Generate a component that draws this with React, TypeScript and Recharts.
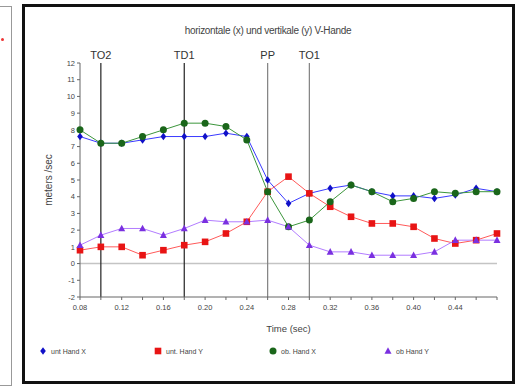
import React from "react";
import { LineChart, Line, XAxis, YAxis, ReferenceLine } from "recharts";

const times = [0.08, 0.1, 0.12, 0.14, 0.16, 0.18, 0.2, 0.22, 0.24, 0.26, 0.28, 0.3, 0.32, 0.34, 0.36, 0.38, 0.4, 0.42, 0.44, 0.46, 0.48];
const untHandX = [7.6, 7.2, 7.2, 7.4, 7.6, 7.6, 7.6, 7.8, 7.6, 5.0, 3.6, 4.2, 4.5, 4.7, 4.3, 4.05, 4.05, 3.9, 4.1, 4.5, 4.3];
const untHandY = [0.8, 1.0, 1.0, 0.5, 0.8, 1.1, 1.3, 1.8, 2.5, 4.3, 5.2, 4.2, 3.4, 2.8, 2.4, 2.4, 2.2, 1.5, 1.2, 1.4, 1.8];
const obHandX = [8.0, 7.2, 7.2, 7.6, 8.0, 8.4, 8.4, 8.2, 7.4, 4.3, 2.2, 2.6, 3.7, 4.7, 4.3, 3.7, 3.9, 4.3, 4.2, 4.3, 4.3];
const obHandY = [1.1, 1.7, 2.1, 2.1, 1.7, 2.1, 2.6, 2.5, 2.5, 2.6, 2.2, 1.1, 0.7, 0.7, 0.5, 0.5, 0.5, 0.7, 1.4, 1.4, 1.4];

const xTicks = [0.08, 0.1, 0.12, 0.14, 0.16, 0.18, 0.2, 0.22, 0.24, 0.26, 0.28, 0.3, 0.32, 0.34, 0.36, 0.38, 0.4, 0.42, 0.44, 0.46, 0.48];
const yTicks = [-2, -1, 0, 1, 2, 3, 4, 5, 6, 7, 8, 9, 10, 11, 12];

const events = [
  { label: "TO2", t: 0.1, dark: true },
  { label: "TD1", t: 0.18, dark: true },
  { label: "PP", t: 0.26, dark: false },
  { label: "TO1", t: 0.3, dark: false },
];

const series = [
  { key: "untX", name: "unt Hand X", values: untHandX, line: "#3a3aff", mark: "#1010c8", shape: "diamond" },
  { key: "untY", name: "unt. Hand Y", values: untHandY, line: "#ff5a5a", mark: "#e81414", shape: "square" },
  { key: "obX", name: "ob. Hand X", values: obHandX, line: "#3c963c", mark: "#1a661a", shape: "circle" },
  { key: "obY", name: "ob Hand Y", values: obHandY, line: "#b27cff", mark: "#7a30e0", shape: "triangle" },
];

const data = times.map((t, i) => {
  const row: Record<string, number> = { t };
  series.forEach((s) => (row[s.key] = s.values[i]));
  return row;
});

const FONT = "'Liberation Sans', Arial, sans-serif";

function Marker({ cx, cy, shape, color }: { cx: number; cy: number; shape: string; color: string }) {
  if (cx == null || cy == null) return null;
  if (shape === "diamond")
    return <path d={`M${cx},${cy - 3.8}L${cx + 2.8},${cy}L${cx},${cy + 3.8}L${cx - 2.8},${cy}Z`} fill={color} />;
  if (shape === "square") return <rect x={cx - 3.3} y={cy - 3.3} width={6.6} height={6.6} fill={color} />;
  if (shape === "circle") return <circle cx={cx} cy={cy} r={3.5} fill={color} />;
  return <path d={`M${cx},${cy - 3.8}L${cx + 3.5},${cy + 2.8}L${cx - 3.5},${cy + 2.8}Z`} fill={color} />;
}

export default function App() {
  return (
    <div style={{ position: "absolute", left: 0, top: 0, width: 519, height: 387, background: "#fff", fontFamily: FONT, overflow: "hidden" }}>
      {/* stray panel on the left */}
      <div style={{ position: "absolute", left: -4, top: 6, width: 14, height: 378, border: "1px solid #999" }} />
      <div style={{ position: "absolute", left: 1, top: 38, width: 3, height: 3, background: "#e33", borderRadius: 2 }} />
      {/* frame */}
      <div style={{ position: "absolute", left: 22, top: 4, width: 487, height: 374, border: "3px solid #111" }} />
      <div style={{ position: "absolute", left: 0, top: 25, width: 536, textAlign: "center", fontSize: 10, color: "#444", letterSpacing: -0.3 }}>
        horizontale (x) und vertikale (y) V-Hande
      </div>
      <div style={{ position: "absolute", left: 0, top: 0 }}>
        <LineChart width={519} height={387} data={data} margin={{ top: 63, right: 22, bottom: 60, left: 0 }}>
          <XAxis
            dataKey="t"
            type="number"
            domain={[0.08, 0.48]}
            ticks={xTicks}
            interval={0}
            tickFormatter={(v: number, i: number) => (i % 2 === 0 && i < 20 ? v.toFixed(2) : "")}
            tick={{ fontSize: 7.5, fill: "#444", fontFamily: FONT }}
            tickMargin={5}
            stroke="#666"
            tickSize={3}
            label={{ value: "Time (sec)", position: "bottom", offset: -2, fontSize: 9.5, fill: "#444", fontFamily: FONT }}
          />
          <YAxis
            type="number"
            domain={[-2, 12]}
            ticks={yTicks}
            interval={0}
            width={80}
            tick={{ fontSize: 7.5, fill: "#444", fontFamily: FONT }}
            stroke="#666"
            tickSize={3}
            label={{ value: "meters /sec", angle: -90, position: "insideLeft", offset: 48, fontSize: 10, fill: "#444", fontFamily: FONT, style: { textAnchor: "middle" } }}
          />
          <ReferenceLine y={0} stroke="#c4c4c4" strokeWidth={1.5} />
          {events.map((e) => (
            <ReferenceLine
              key={e.label}
              x={e.t}
              stroke={e.dark ? "#222" : "#808080"}
              strokeWidth={1.2}
              label={{ value: e.label, position: "top", offset: 4, fontSize: 11, fill: "#333", fontFamily: FONT }}
            />
          ))}
          {series.map((s) => (
            <Line
              key={s.key}
              dataKey={s.key}
              type="linear"
              stroke={s.line}
              strokeWidth={1}
              isAnimationActive={false}
              dot={(p: any) => <Marker key={`${s.key}-${p.index}`} cx={p.cx} cy={p.cy} shape={s.shape} color={s.mark} />}
              activeDot={false}
            />
          ))}
        </LineChart>
      </div>
      {/* legend */}
      {series.map((s, i) => (
        <div key={s.key} style={{ position: "absolute", left: 38 + i * 115, top: 346, display: "flex", alignItems: "center", fontSize: 7, color: "#444" }}>
          <svg width={10} height={10} style={{ marginRight: 3 }}>
            <Marker cx={5} cy={5} shape={s.shape} color={s.mark} />
          </svg>
          {s.name}
        </div>
      ))}
    </div>
  );
}
